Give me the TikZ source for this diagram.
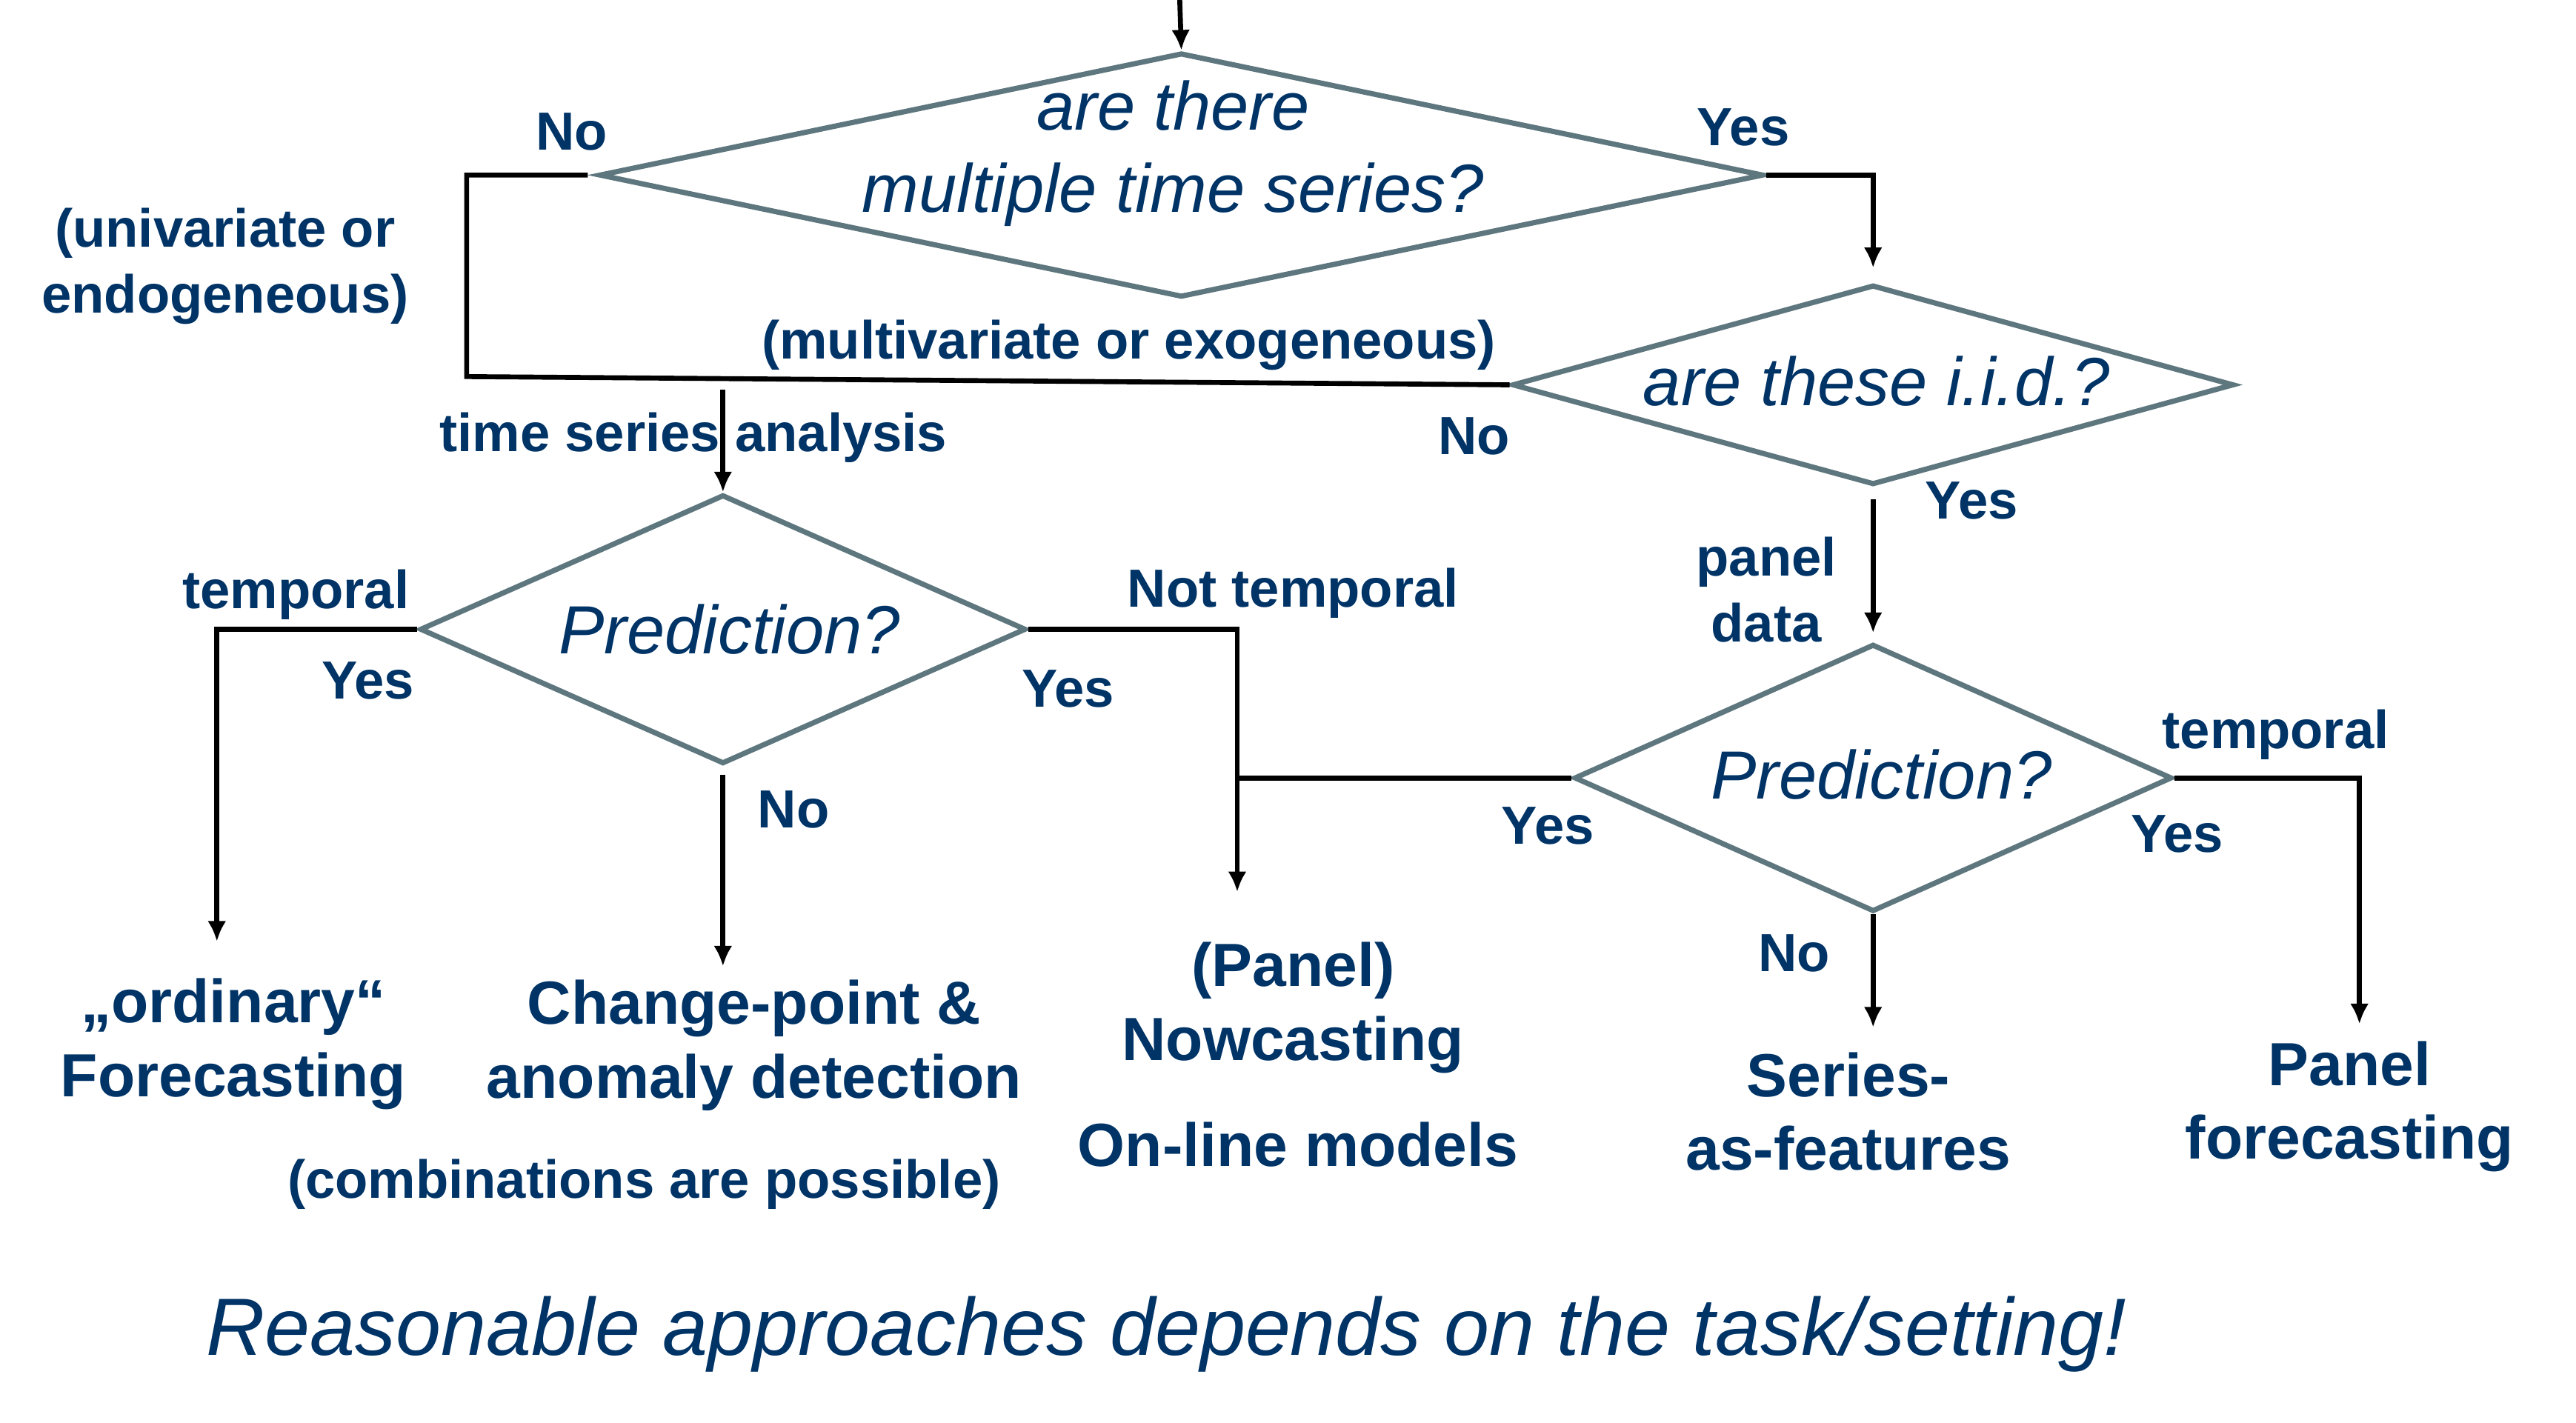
\documentclass[tikz,border=0pt]{standalone}
\usepackage{fontspec}
\setmainfont{Liberation Sans}
\usetikzlibrary{positioning, calc, arrows.meta, shapes.geometric}
\definecolor{textblue}{RGB}{0,51,102}
\definecolor{framegray}{RGB}{94,118,126}

\begin{document}
\begin{tikzpicture}[x=0.0199cm, y=-0.02cm,
        >={Latex[length=7pt,width=6.4pt]},
        decision/.style={diamond, draw=framegray, line width=1.8pt, inner sep=0pt},
        question/.style={text=textblue, font=\fontsize{23.5}{28.5}\selectfont\itshape, align=center, inner sep=0pt},
        lbl/.style={text=textblue, font=\fontsize{18.5}{22.7}\selectfont\bfseries, align=center, inner sep=0pt},
        outcome/.style={text=textblue, font=\fontsize{21}{25.5}\selectfont\bfseries, align=center, inner sep=0pt},
        flow/.style={line width=1.7pt}]
        \useasboundingbox (0,0) rectangle (1567.8,861.4);
        % decisions
        \node[decision, minimum width=14.1cm, minimum height=2.96cm] (q1) at (719,106) {};
        \node[decision, minimum width=8.74cm, minimum height=2.42cm] (q2) at (1140,233) {};
        \node[decision, minimum width=7.34cm, minimum height=3.26cm] (q3) at (440,381) {};
        \node[decision, minimum width=7.24cm, minimum height=3.24cm] (q4) at (1140,471) {};
        \node[question] (q1-text) at (714,93) {are there\\multiple time series?};
        \node[question] (q2-text) at (1142,231) {are these i.i.d.?};
        \node[question] (q3-text) at (444,381) {Prediction?};
        \node[question] (q4-text) at (1145,469) {Prediction?};
        % labels
        \node[lbl] (q1-no)   at (348,80)  {No};
        \node[lbl] (q1-yes)  at (1061,77) {Yes};
        \node[lbl] (uni)     at (137,161) {(univariate or\\endogeneous)};
        \node[lbl] (multi)   at (687,209) {(multivariate or exogeneous)};
        \node[lbl] (q2-no)   at (897,264) {No};
        \node[lbl] (q2-yes)  at (1200,303) {Yes};
        \node[lbl] (panel)   at (1075,357) {panel\\data};
        \node[lbl] (tsa)     at (422,265) {time series analysis};
        \node[lbl] (q3-temp) at (180,360) {temporal};
        \node[lbl] (q3-yes1) at (224,412) {Yes};
        \node[lbl] (q3-yes2) at (650,417) {Yes};
        \node[lbl] (q3-not)  at (787,359) {Not temporal};
        \node[lbl] (q3-no)   at (483,490) {No};
        \node[lbl] (q4-yes1) at (942,500) {Yes};
        \node[lbl] (q4-temp) at (1385,445) {temporal};
        \node[lbl] (q4-yes2) at (1325,505) {Yes};
        \node[lbl] (q4-no)   at (1092,577) {No};
        % outcomes
        \node[outcome] (fc)  at (142,632)  {„ordinary“\\Forecasting};
        \node[outcome] (cp)  at (459,633)  {Change-point \&\\anomaly detection};
        \node[lbl]     (comb) at (392,717) {(combinations are possible)};
        \node[outcome] (nc)  at (787,610)  {(Panel)\\Nowcasting};
        \node[outcome] (ol)  at (790,693)  {On-line models};
        \node[outcome] (sf)  at (1125,673) {Series-\\as-features};
        \node[outcome] (pf)  at (1430,670) {Panel\\forecasting};
        \node[question, font=\fontsize{28}{34}\selectfont\itshape] (moral) at (710,808)
            {Reasonable approaches depends on the task/setting!};
        % connector ends
        \coordinate (start)  at (718,0);
        \coordinate (bend)   at (284,228);
        \coordinate (split)  at (440,236);
        \coordinate (join)   at (753,471);
        \coordinate (fc-in)  at (132,570);
        \coordinate (cp-in)  at (440,585);
        \coordinate (nc-in)  at (753,540);
        \coordinate (sf-in)  at (1140,622);
        \coordinate (pf-in)  at (1436,620);
        % arrows
        \draw[flow, ->] (start) -- (q1.north);
        \draw[flow, shorten <=3pt] (q1.west) -| (bend) -- (q2.west);
        \draw[flow, ->] (split) -- (q3.north);
        \draw[flow, ->, shorten >=5pt] (q1.east) -| (q2.north);
        \draw[flow, ->, shorten <=4pt, shorten >=3pt] (q2.south) -- (q4.north);
        \draw[flow, ->] (q3.west) -| (fc-in);
        \draw[flow, ->, shorten <=3pt] (q3.south) -- (cp-in);
        \draw[flow, ->] (q3.east) -| (nc-in);
        \draw[flow] (q4.west) -- (join);
        \draw[flow, ->] (q4.south) -- (sf-in);
        \draw[flow, ->] (q4.east) -| (pf-in);
\end{tikzpicture}
\end{document}
